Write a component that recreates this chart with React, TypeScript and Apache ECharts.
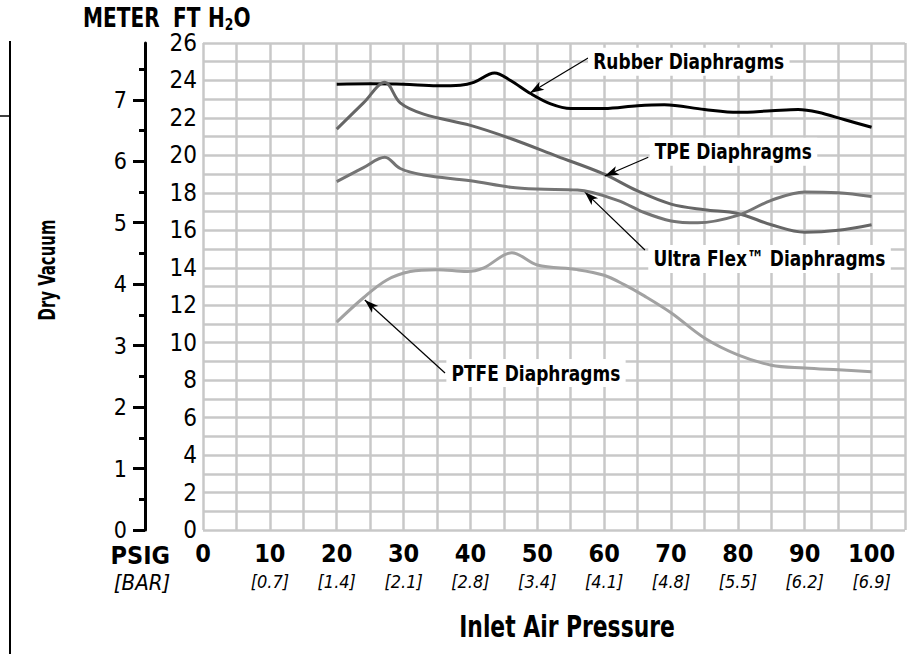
import React, { useEffect, useRef } from 'react';
import * as echarts from 'echarts';

const FONT = "'Liberation Sans Narrow', 'Arial Narrow', 'DejaVu Sans Condensed', 'Roboto', sans-serif";

// X axis: PSIG ticks with BAR equivalents
const psigTicks = [0, 10, 20, 30, 40, 50, 60, 70, 80, 90, 100];
const barTicks = ['', '0.7', '1.4', '2.1', '2.8', '3.4', '4.1', '4.8', '5.5', '6.2', '6.9'];

// Y axis: feet of H2O (labels on even values)
const ftMax = 26;
const ftLabelStep = 2;
// Meter axis
const meterMajor = [0, 1, 2, 3, 4, 5, 6, 7];
const meterMinor = [0.5, 1.5, 2.5, 3.5, 4.5, 5.5, 6.5, 7.5];
const FT_PER_M = 3.28084;

// Series: [psig, ft H2O]
const rubber: [number, number][] = [
  [20, 23.8], [25, 23.82], [30, 23.8], [35, 23.72], [38.5, 23.75], [40.5, 23.9],
  [43.6, 24.4], [46, 24.0], [49, 23.3], [52, 22.75], [55, 22.5], [60, 22.5],
  [65, 22.65], [69, 22.7], [75, 22.45], [80, 22.3], [85, 22.38], [89, 22.45],
  [92, 22.3], [96, 21.9], [100, 21.5],
];
const tpe: [number, number][] = [
  [20, 21.4], [24, 22.8], [27.2, 23.9], [29.5, 22.8], [33, 22.2], [40, 21.6],
  [46, 20.9], [53, 19.95], [60, 19.0], [65, 18.1], [70, 17.4], [75, 17.1],
  [80, 16.9], [85, 16.3], [90, 15.9], [95, 16.0], [100, 16.3],
];
const ultraFlex: [number, number][] = [
  [20, 18.6], [24, 19.35], [27.2, 19.9], [29.5, 19.3], [33, 18.95], [40, 18.65],
  [46, 18.3], [50, 18.2], [56, 18.15], [62, 17.6], [66, 16.95], [70, 16.5],
  [74, 16.4], [80, 16.8], [85, 17.6], [90, 18.05], [95, 18.0], [100, 17.8],
];
const ptfe: [number, number][] = [
  [20, 11.1], [24, 12.4], [27.5, 13.35], [31, 13.8], [35, 13.9], [39.5, 13.8],
  [42, 14.0], [46.2, 14.8], [50, 14.15], [56, 13.9], [60, 13.6], [63, 13.1],
  [66, 12.5], [70, 11.6], [75, 10.25], [80, 9.35], [85, 8.8], [90, 8.65],
  [95, 8.55], [100, 8.45],
];

const seriesNames = ['Rubber Diaphragms', 'TPE Diaphragms', 'Ultra Flex™ Diaphragms', 'PTFE Diaphragms'];
const seriesData = [rubber, tpe, ultraFlex, ptfe];
const seriesColors = ['#000000', '#666666', '#747474', '#a2a2a2'];

// Annotation callouts in data coordinates: arrow tip, arrow tail, label box left-middle
const annoTip: [number, number][] = [[48.9, 23.33], [60.1, 18.9], [57.1, 18.05], [24.2, 12.28]];
const annoTail: [number, number][] = [[57.6, 25.2], [66.6, 19.9], [66.1, 14.95], [36.2, 8.38]];
const annoText: [number, number][] = [[57.6, 25.0], [66.8, 20.2], [66.6, 14.47], [36.4, 8.38]];

const GRID = '#c8c8c8';
const SQ = 0.86; // horizontal condensing of bold captions

function txt(x: number, y: number, text: string, opts: any = {}) {
  const { align = 'left', size = 26, weight = 'bold', italic = false, scaleX = SQ, rotation = 0, extra = {} } = opts;
  return {
    type: 'text', x, y, scaleX, rotation, z: 50,
    style: {
      text, fill: '#000', fontFamily: FONT, fontWeight: weight, fontStyle: italic ? 'italic' : 'normal', fontSize: size,
      align, verticalAlign: 'middle', textAlign: align, textVerticalAlign: 'middle', ...extra,
    },
  };
}

export default function App() {
  const ref = useRef<HTMLDivElement>(null);
  useEffect(() => {
    if (!ref.current) return;
    const chart = echarts.init(ref.current, undefined, { renderer: 'svg' });

    const series: any[] = seriesData.map((d, i) => ({
      type: 'line',
      name: seriesNames[i],
      data: d,
      smooth: 0.35,
      symbol: 'none',
      lineStyle: { color: seriesColors[i], width: 3 },
      z: 3 + i,
      silent: true,
      markLine: {
        silent: true,
        animation: false,
        lineStyle: { color: '#000', width: 1.2, type: 'solid' },
        label: { show: false },
        emphasis: { disabled: true },
        data: [[
          { coord: annoTip[i], symbol: 'arrow', symbolSize: [7, 14] },
          { coord: annoTail[i], symbol: 'none' },
        ]],
      },
    }));

    chart.setOption({
      animation: false,
      grid: {
        left: 203, top: 43, width: 702, height: 487,
        containLabel: false,
        outerBoundsMode: 'none',
      },
      xAxis: {
        type: 'value',
        min: 0, max: 105, interval: 5,
        axisLine: { show: false },
        axisTick: { show: false },
        splitLine: { show: true, lineStyle: { color: GRID, width: 2.5 } },
        axisLabel: {
          margin: 9,
          formatter: (v: number) => {
            const i = psigTicks.indexOf(v);
            if (i < 0) return '';
            return barTicks[i] ? `{a|${v}}\n{b|[${barTicks[i]}]}` : `{a|${v}}`;
          },
          rich: {
            a: { fontFamily: FONT, fontWeight: 'bold', fontSize: 25, color: '#000', lineHeight: 28 },
            b: { fontFamily: FONT, fontStyle: 'italic', fontSize: 18, color: '#000', lineHeight: 28 },
          },
        },
      },
      yAxis: [
        {
          type: 'value',
          min: 0, max: ftMax, interval: 1,
          axisLine: { show: false },
          axisTick: { show: false },
          splitLine: { show: true, lineStyle: { color: GRID, width: 2.5 } },
          axisLabel: {
            margin: 6,
            fontFamily: FONT, fontSize: 24, color: '#000',
            formatter: (v: number) => (v % ftLabelStep === 0 ? String(v) : ''),
          },
        },
        {
          type: 'value',
          position: 'left',
          offset: 58,
          min: 0, max: ftMax / FT_PER_M,
          axisLine: { show: true, onZero: false, lineStyle: { color: '#000', width: 3 } },
          axisTick: {
            show: true, inside: false, length: 12,
            customValues: meterMajor,
            lineStyle: { color: '#000', width: 3 },
          },
          splitLine: { show: false },
          axisLabel: {
            margin: 18,
            customValues: meterMajor,
            fontFamily: FONT, fontSize: 23, color: '#000',
          },
        },
        {
          type: 'value',
          position: 'left',
          offset: 58,
          min: 0, max: ftMax / FT_PER_M,
          axisLine: { show: false },
          axisTick: {
            show: true, inside: false, length: 6,
            customValues: meterMinor,
            lineStyle: { color: '#000', width: 3 },
          },
          splitLine: { show: false },
          axisLabel: { show: false },
        },
      ],
      series,
    });

    const annoLabels = annoText.map((c, i) => {
      const p = chart.convertToPixel({ xAxisIndex: 0, yAxisIndex: 0 }, c) as number[];
      return txt(p[0], p[1], seriesNames[i], {
        size: 22,
        extra: { backgroundColor: '#ffffff', padding: [3, 6, 3, 6] },
      });
    });

    chart.setOption({
      graphic: [
        { type: 'line', shape: { x1: 10, y1: 41, x2: 10, y2: 654 }, style: { stroke: '#000', lineWidth: 2 } },
        { type: 'line', shape: { x1: 0, y1: 116, x2: 10, y2: 116 }, style: { stroke: '#000', lineWidth: 1.5 } },
        txt(83, 18, 'METER', { size: 26 }),
        txt(173, 18, 'FT', { size: 26 }),
        {
          type: 'text', x: 208, y: 18, scaleX: SQ, z: 50,
          style: {
            text: '{h|H}{s|2}{h|O}', fill: '#000', align: 'left', verticalAlign: 'middle', textAlign: 'left', textVerticalAlign: 'middle',
            rich: {
              h: { fontFamily: FONT, fontWeight: 'bold', fontSize: 26, lineHeight: 30, fill: '#000', color: '#000' },
              s: { fontFamily: FONT, fontWeight: 'bold', fontSize: 16, lineHeight: 14, verticalAlign: 'bottom', fill: '#000', color: '#000' },
            },
          },
        },
        txt(47, 270, 'Dry Vacuum', { align: 'center', size: 23, scaleX: 0.72, rotation: Math.PI / 2 }),
        txt(170, 555, 'PSIG', { align: 'right', size: 25, scaleX: 1 }),
        txt(142, 582, '[BAR]', { align: 'center', size: 22, weight: 'normal', italic: true, scaleX: 1 }),
        txt(567, 627, 'Inlet Air Pressure', { align: 'center', size: 30, scaleX: 0.81 }),
        ...annoLabels,
      ],
    });
    return () => chart.dispose();
  }, []);
  return <div ref={ref} style={{ position: 'fixed', left: 0, top: 0, width: 908, height: 654, background: '#fff' }} />;
}
